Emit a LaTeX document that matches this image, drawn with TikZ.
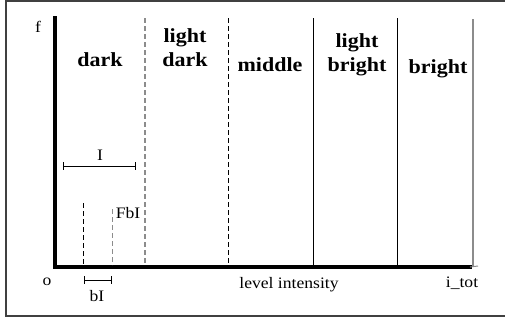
\documentclass[tikz,border=0pt]{standalone}
\usepackage{fontspec}
\setmainfont{Liberation Serif}[FakeStretch=1.1]
\begin{document}
\begin{tikzpicture}[x=1pt,y=-1pt,
  lbl/.style={font=\fontsize{20}{24}\selectfont\bfseries, align=center, inner sep=0pt},
  sm/.style={font=\fontsize{16}{16}\selectfont, inner sep=0pt},
  axis/.style={line width=3.5pt, line cap=rect},
  sep/.style={line width=0.8pt},
  gsep/.style={line width=1.2pt, draw=black!45},
  interval/.style={line width=0.8pt, |-|}]
\useasboundingbox (0,0) rectangle (505,325);
% frame
\draw[line width=1.5pt, draw=black!75] (520,1) -- (6,1) -- (6,316) -- (520,316);
% axes
\coordinate (top) at (55,18);
\coordinate (orig) at (55,267);
\coordinate (xend) at (470,267);
\draw[axis] (top) -- (orig) -- (xend);
\coordinate (xend2) at (478,266);
\draw[gsep, line width=1pt] (xend) -- (xend2);
% separators
\coordinate (s1t) at (145,18); \coordinate (s1b) at (145,265);
\coordinate (s2t) at (228,18); \coordinate (s2b) at (228,265);
\coordinate (s3t) at (313,18); \coordinate (s3b) at (313,265);
\coordinate (s4t) at (397,18); \coordinate (s4b) at (397,265);
\coordinate (s5t) at (473,19); \coordinate (s5b) at (473,267);
\draw[gsep, dash pattern=on 5pt off 3pt] (s1t) -- (s1b);
\draw[sep, dash pattern=on 5pt off 3pt] (s2t) -- (s2b);
\draw[sep] (s3t) -- (s3b);
\draw[sep] (s4t) -- (s4b);
\draw[gsep] (s5t) -- (s5b);
% short dashed
\coordinate (d1t) at (83,203); \coordinate (d1b) at (83,265);
\coordinate (d2t) at (112,209); \coordinate (d2b) at (112,265);
\draw[sep, dash pattern=on 5pt off 3pt] (d1t) -- (d1b);
\draw[gsep, line width=1pt, dash pattern=on 5pt off 3pt] (d2t) -- (d2b);
% intervals
\coordinate (ia) at (63,166); \coordinate (ib) at (136,166);
\draw[interval] (ia) -- (ib);
\coordinate (ba) at (84,280); \coordinate (bb) at (112,280);
\draw[interval] (ba) -- (bb);
% labels
\node[sm] (f) at (38,27) {f};
\node[sm] (I) at (100,155) {I};
\node[sm] (FbI) at (128,213) {FbI};
\node[sm] (bI) at (97,296) {bI};
\node[sm] (o) at (47,282) {o};
\node[sm] (lev) at (289,285) {level intensity};
\node[sm] (itot) at (462,283) {i\_tot};
\node[lbl] (dark) at (100,60) {dark};
\node[lbl] (ldark) at (185,48) {light\\dark};
\node[lbl] (middle) at (270,65) {middle};
\node[lbl] (lbright) at (357,55) {light\\bright};
\node[lbl] (bright) at (438,69) {bright};
\end{tikzpicture}
\end{document}
